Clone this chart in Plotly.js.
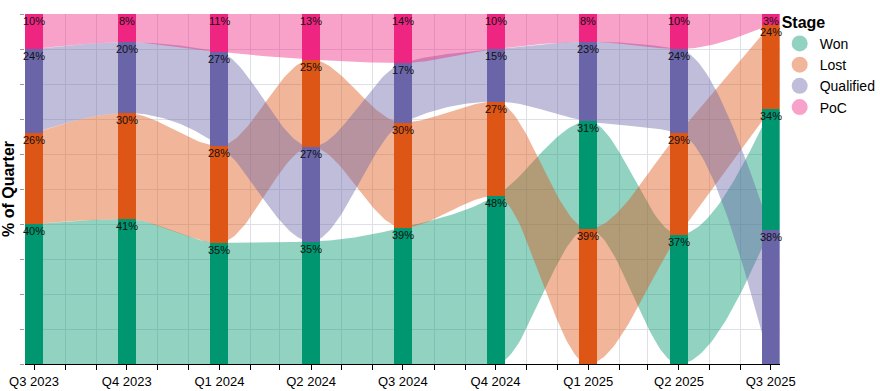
<!DOCTYPE html>
<html><head><meta charset="utf-8">
<script src="https://cdn.plot.ly/plotly-3.0.1.min.js"></script>
<style>body{margin:0;background:#fff}#chart{width:880px;height:391px}</style>
</head><body><div id="chart"></div>
<script>
// ---- data ----
const quarterDates = ['2023-07-01','2023-10-01','2024-01-01','2024-04-01','2024-07-01','2024-10-01','2025-01-01','2025-04-01','2025-07-01'];
const quarterLabels = ['Q3 2023','Q4 2023','Q1 2024','Q2 2024','Q3 2024','Q4 2024','Q1 2025','Q2 2025','Q3 2025'];
const stages = ['Won','Lost','Qualified','PoC'];
const won       = [40,41,35,35,39,48,31,37,34];
const lost      = [26,30,28,25,30,27,39,29,24];
const qualified = [24,20,27,27,17,15,23,24,38];
const poc       = [10, 8,11,13,14,10, 8,10, 3];
const stageValues = [won, lost, qualified, poc];
const baseColors = [[0,150,111],[222,86,22],[106,101,168],[238,38,130]];
const ribbonAlpha = 0.43;

// ---- helpers ----
const DAY = 86400000;
function toMs(s){ const p=s.split('-').map(Number); return Date.UTC(p[0],p[1]-1,p[2]); }
const xs = quarterDates.map(toMs);
const rgb = c => `rgb(${c[0]},${c[1]},${c[2]})`;
const rgba = (c,a) => `rgba(${c[0]},${c[1]},${c[2]},${a})`;

// stacking: each quarter sorted descending from the bottom
const nQ = xs.length;
const bases = stages.map(()=>new Array(nQ));
const tops = stages.map(()=>new Array(nQ));
for (let q=0;q<nQ;q++){
  const vals = stageValues.map(a=>a[q]);
  const total = vals.reduce((a,b)=>a+b,0);
  const order = vals.map((v,i)=>i).sort((a,b)=>vals[b]-vals[a]);
  let cum=0;
  order.forEach(i=>{ bases[i][q]=cum/total; cum+=vals[i]; tops[i][q]=cum/total; });
}

// d3 curveMonotoneX equivalent
function sgn(x){ return x<0?-1:1; }
function monotone(X, Y, samples){
  const N=X.length, h=[], s=[];
  for(let i=0;i<N-1;i++){ h[i]=X[i+1]-X[i]; s[i]=(Y[i+1]-Y[i])/h[i]; }
  const m=new Array(N);
  for(let i=1;i<N-1;i++){
    const s0=s[i-1], s1=s[i], p=(s0*h[i]+s1*h[i-1])/(h[i-1]+h[i]);
    m[i]=(sgn(s0)+sgn(s1))*Math.min(Math.abs(s0),Math.abs(s1),0.5*Math.abs(p))||0;
  }
  m[0]=(3*s[0]-m[1])/2;
  m[N-1]=(3*s[N-2]-m[N-2])/2;
  const ox=[], oy=[];
  for(let i=0;i<N-1;i++){
    const x0=X[i], y0=Y[i], x1=X[i+1], y1=Y[i+1], hh=h[i];
    const c1y=y0+hh*m[i]/3, c2y=y1-hh*m[i+1]/3;
    for(let k=(i===0?0:1);k<=samples;k++){
      const t=k/samples, u=1-t;
      ox.push(x0+hh*t);
      oy.push(u*u*u*y0+3*u*u*t*c1y+3*u*t*t*c2y+t*t*t*y1);
    }
  }
  return {x:ox,y:oy};
}

const traces=[];
// ribbons (base subplot)
stages.forEach((st,i)=>{
  const top=monotone(xs,tops[i],40), bot=monotone(xs,bases[i],40);
  traces.push({
    type:'scatter', mode:'lines', x:top.x.concat(bot.x.slice().reverse()),
    y:top.y.concat(bot.y.slice().reverse()), fill:'toself',
    fillcolor:rgba(baseColors[i],ribbonAlpha), line:{width:0}, hoverinfo:'skip',
    showlegend:false, xaxis:'x', yaxis:'y'
  });
});
// bars (overlay subplot so they sit above ribbons)
const barWidth = 17.9*DAY;
stages.forEach((st,i)=>{
  traces.push({
    type:'bar', x:xs, y:tops[i].map((t,q)=>t-bases[i][q]), base:bases[i],
    width:barWidth, marker:{color:rgb(baseColors[i]), line:{width:0}},
    showlegend:false, xaxis:'x2', yaxis:'y2', hoverinfo:'skip'
  });
});
// legend entries
stages.forEach((st,i)=>{
  traces.push({type:'scatter', mode:'markers', x:[null], y:[null], name:st,
    marker:{symbol:'circle', size:16, color:rgba(baseColors[i],ribbonAlpha)},
    showlegend:true, xaxis:'x', yaxis:'y'});
});

// labels
const annotations=[];
stages.forEach((st,i)=>{
  stageValues[i].forEach((v,q)=>{
    annotations.push({x:xs[q], y:tops[i][q], xref:'x2', yref:'y2', text:v+'%',
      showarrow:false, xanchor:'center', yanchor:'top', yshift:1,
      font:{family:'Liberation Sans, Arial, sans-serif', size:11, color:'#111'}});
  });
});

// monthly ticks, labels at quarter starts
const tickvals=[], ticktext=[];
{
  const d0=new Date(xs[0]); let y=d0.getUTCFullYear(), mo=d0.getUTCMonth();
  while(Date.UTC(y,mo,1)<=xs[nQ-1]){
    const ms=Date.UTC(y,mo,1);
    tickvals.push(ms);
    const qi=xs.indexOf(ms);
    ticktext.push(qi>=0?quarterLabels[qi]:'');
    mo++; if(mo>11){mo=0;y++;}
  }
}
const xrange=[xs[0]-8.93*DAY, xs[nQ-1]+8.93*DAY];
const gridc='#dde0e7';
const layout={
  width:880, height:391, margin:{l:25,r:100,t:14,b:27},
  paper_bgcolor:'#fff', plot_bgcolor:'#fff',
  font:{family:'Liberation Sans, Arial, sans-serif', color:'#000'},
  showlegend:true,
  xaxis:{type:'date', range:xrange, tickmode:'array', tickvals:tickvals, ticktext:ticktext,
    showgrid:true, gridcolor:gridc, gridwidth:1, ticks:'outside', ticklen:5, tickcolor:'#000',
    showline:true, linecolor:'#000', linewidth:1, zeroline:false, automargin:false,
    tickfont:{size:13, color:'#000'}, fixedrange:true},
  yaxis:{range:[0,1], tickmode:'linear', tick0:0, dtick:0.1, showticklabels:false,
    ticks:'outside', ticklen:4, tickcolor:'#999', showgrid:true, gridcolor:gridc,
    zeroline:false, showline:false, automargin:false,
    title:{text:'<b>% of Quarter</b>', font:{size:16, color:'#000'}, standoff:2}},
  xaxis2:{type:'date', range:xrange, overlaying:'x', visible:false},
  yaxis2:{range:[0,1], overlaying:'y', visible:false},
  legend:{xref:'container', x:0.886, xanchor:'left', yref:'container', y:0.982, yanchor:'top',
    bgcolor:'rgba(0,0,0,0)',
    title:{text:'<b>Stage</b>', font:{size:16}}, font:{size:14, color:'#000'},
    traceorder:'normal', itemwidth:30},
  annotations:annotations, bargap:0, barmode:'overlay'
};
Plotly.newPlot('chart', traces, layout, {staticPlot:true, displayModeBar:false});
</script>
</body></html>
